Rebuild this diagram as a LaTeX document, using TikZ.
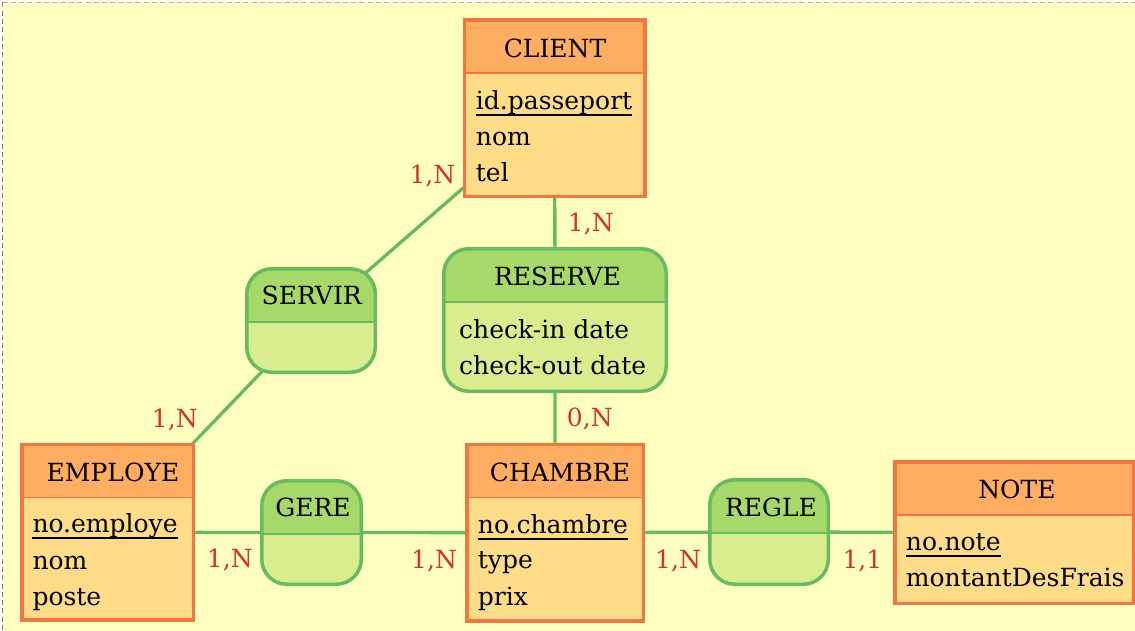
\documentclass[tikz,border=0pt]{standalone}
\usepackage{fontspec}
\setmainfont{DejaVu Serif}
\usetikzlibrary{backgrounds}
\pgfdeclarelayer{back}
\pgfsetlayers{back,background,main}
\definecolor{bgyellow}{RGB}{255,255,192}
\definecolor{eborder}{RGB}{244,116,66}
\definecolor{ehead}{RGB}{255,173,96}
\definecolor{ebody}{RGB}{255,221,136}
\definecolor{rborder}{RGB}{102,187,96}
\definecolor{rhead}{RGB}{166,217,106}
\definecolor{rbody}{RGB}{217,237,143}
\definecolor{card}{RGB}{214,50,40}
\definecolor{frametop}{RGB}{175,175,175}
\definecolor{frameleft}{RGB}{130,130,130}
\tikzset{
  entity/.style={draw=eborder, line width=3.5pt, fill=ebody, inner sep=0pt,
    path picture={
      \fill[ehead, sharp corners] (path picture bounding box.north west) rectangle ([yshift=-53pt]path picture bounding box.north east);
      \draw[eborder, line width=1.8pt, sharp corners] ([yshift=-53pt]path picture bounding box.north west) -- ([yshift=-53pt]path picture bounding box.north east);
    }},
  relation/.style={draw=rborder, line width=3.5pt, fill=rbody, inner sep=0pt, rounded corners=25pt,
    path picture={
      \fill[rhead, sharp corners] (path picture bounding box.north west) rectangle ([yshift=-53pt]path picture bounding box.north east);
      \draw[rborder, line width=1.8pt, sharp corners] ([yshift=-53pt]path picture bounding box.north west) -- ([yshift=-53pt]path picture bounding box.north east);
    }},
  txt/.style={inner sep=0pt, font=\fontsize{25}{30}\selectfont, text=black},
  ttl/.style={txt, anchor=base},
  att/.style={txt, anchor=base west},
  crd/.style={txt, anchor=base west, text=card},
  link/.style={draw=rborder, line width=3.3pt},
  uline/.style={draw=black, line width=2pt},
}
\begin{document}
\begin{tikzpicture}[x=1pt,y=-1pt]
\useasboundingbox (0,0) rectangle (1135,631);
\begin{pgfonlayer}{back}
  \fill[bgyellow] (2.5,2.5) rectangle (1140,640);
  \draw[frametop, line width=1pt, dash pattern=on 5pt off 3.3pt] (2.5,2.5) -- (1140,2.5);
  \draw[frameleft, line width=1.2pt, dash pattern=on 5pt off 3.3pt] (2.5,2.5) -- (2.5,640);
\end{pgfonlayer}

% entities
\node[entity, minimum width=180.5pt, minimum height=176.5pt] (client) at (554.7,108.2) {};
\node[entity, minimum width=171.5pt, minimum height=175.5pt] (employe) at (107.5,532.3) {};
\node[entity, minimum width=176.5pt, minimum height=176.5pt] (chambre) at (555,532.7) {};
\node[entity, minimum width=238.5pt, minimum height=141.5pt] (note) at (1014,532.5) {};

% relations
\node[relation, minimum width=128.5pt, minimum height=103.5pt] (servir) at (311,320.5) {};
\node[relation, minimum width=222.5pt, minimum height=142.5pt] (reserve) at (555,320) {};
\node[relation, minimum width=99.5pt, minimum height=103.5pt] (gere) at (311.5,532.5) {};
\node[relation, minimum width=118.5pt, minimum height=104.5pt] (regle) at (769,532) {};

% connectors
\begin{pgfonlayer}{background}
  \draw[link] (client.center) -- (servir.center) -- (employe.center);
  \draw[link] (client.center) -- (reserve.center) -- (chambre.center);
  \draw[link] (employe.center) -- (gere.center) -- (chambre.center);
  \draw[link] (chambre.center) -- (regle.center) -- (note.center);
\end{pgfonlayer}

% CLIENT texts
\node[ttl] (clientT) at (555,57.3) {CLIENT};
\node[att] (clientA1) at (475.7,110) {id.passeport};
\node[att] (clientA2) at (475.7,145.7) {nom};
\node[att] (clientA3) at (475.7,181.7) {tel};
\draw[uline] ([yshift=-5.5pt]clientA1.base west) -- ([yshift=-5.5pt]clientA1.base east);

% EMPLOYE texts
\node[ttl] (employeT) at (113,481.7) {EMPLOYE};
\node[att] (employeA1) at (32.3,532.3) {no.employe};
\node[att] (employeA2) at (32.3,569.3) {nom};
\node[att] (employeA3) at (32.3,605) {poste};
\draw[uline] ([yshift=-5.5pt]employeA1.base west) -- ([yshift=-5.5pt]employeA1.base east);

% CHAMBRE texts
\node[ttl] (chambreT) at (560,481.7) {CHAMBRE};
\node[att] (chambreA1) at (477.7,533.3) {no.chambre};
\node[att] (chambreA2) at (477.7,568.3) {type};
\node[att] (chambreA3) at (477.7,605) {prix};
\draw[uline] ([yshift=-5.5pt]chambreA1.base west) -- ([yshift=-5.5pt]chambreA1.base east);

% NOTE texts
\node[ttl] (noteT) at (1017,498.3) {NOTE};
\node[att] (noteA1) at (905.7,550) {no.note\ };
\node[att] (noteA2) at (905.7,586.7) {montantDesFrais};
\draw[uline] ([yshift=-5.5pt]noteA1.base west) -- ([yshift=-5.5pt]noteA1.base east);

% relation texts
\node[ttl] (servirT) at (311.7,304.3) {SERVIR};
\node[ttl] (reserveT) at (557.5,285.7) {RESERVE};
\node[att] (reserveA1) at (459,338.3) {check-in date};
\node[att] (reserveA2) at (459,374.3) {check-out date};
\node[ttl] (gereT) at (313,516.7) {GERE};
\node[ttl] (regleT) at (771,516.7) {REGLE};

% cardinalities
\node[crd] (c1) at (409.3,183.3) {1,N};
\node[crd] (c2) at (151.7,427.3) {1,N};
\node[crd] (c3) at (567.7,231.7) {1,N};
\node[crd] (c4) at (566.7,426.7) {0,N};
\node[crd] (c5) at (206.7,567.7) {1,N};
\node[crd] (c6) at (411,568) {1,N};
\node[crd] (c7) at (655,568.3) {1,N};
\node[crd] (c8) at (842.3,568.3) {1,1};
\end{tikzpicture}
\end{document}
